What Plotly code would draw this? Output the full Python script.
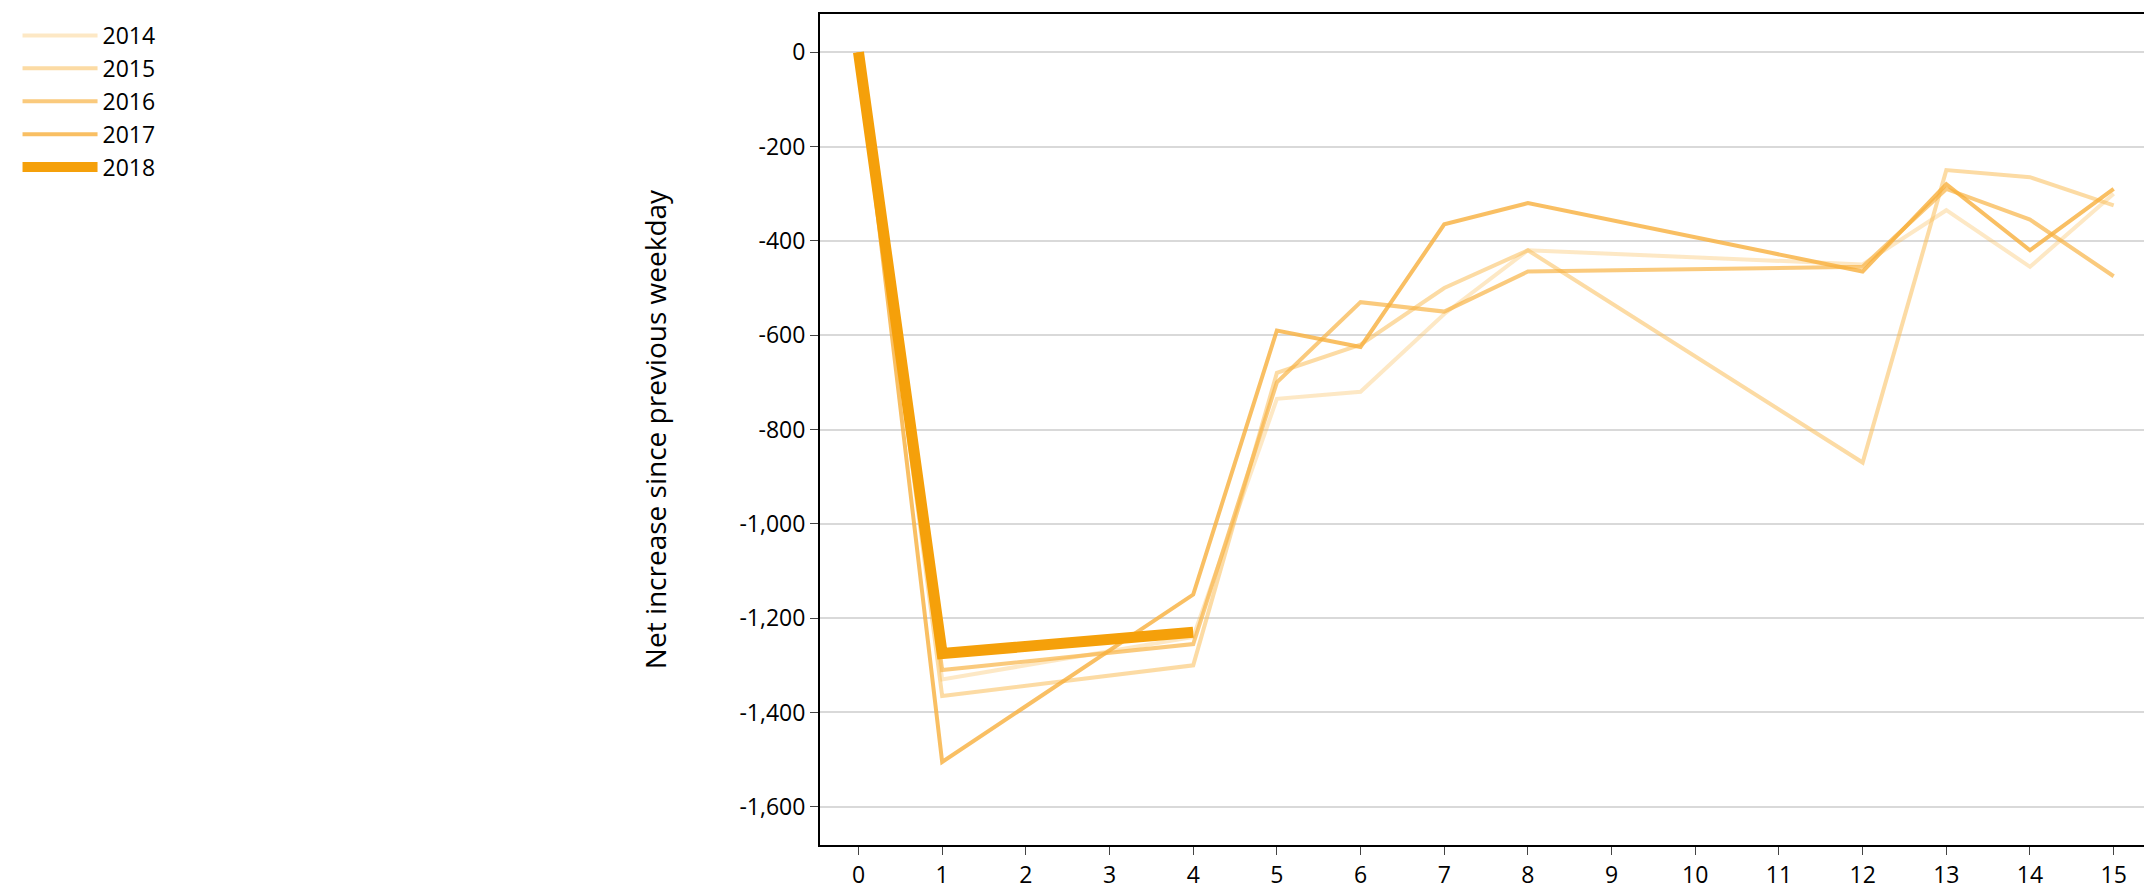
import plotly.graph_objects as go

days = [0, 1, 4, 5, 6, 7, 8, 12, 13, 14, 15]
y2014 = [0, -1330, -1240, -735, -720, -555, -420, -450, -335, -455, -300]
y2015 = [0, -1365, -1300, -680, -620, -500, -420, -870, -250, -265, -325]
y2016 = [0, -1310, -1255, -700, -530, -550, -465, -455, -290, -355, -475]
y2017 = [0, -1505, -1150, -590, -625, -365, -320, -465, -280, -420, -290]
days2018 = [0, 1, 4]
y2018 = [0, -1275, -1230]
yticks = list(range(-1600, 1, 200))

fig = go.Figure()
for name, x, y, col, w in [
    ("2014", days, y2014, "rgba(250,190,90,0.35)", 4),
    ("2015", days, y2015, "rgba(250,190,90,0.55)", 4),
    ("2016", days, y2016, "rgba(248,180,70,0.7)", 4),
    ("2017", days, y2017, "rgba(248,175,60,0.8)", 4),
    ("2018", days2018, y2018, "#f5a00a", 11),
]:
    fig.add_trace(go.Scatter(x=x, y=y, name=name, mode="lines",
                             line=dict(color=col, width=w)))

fig.update_layout(
    width=2152, height=893, plot_bgcolor="white", paper_bgcolor="white",
    font=dict(family="Open Sans", size=23, color="black"),
    margin=dict(l=812, r=7, t=4, b=56),
    legend=dict(x=-0.602, y=1.0, xanchor="left", yanchor="top",
                font=dict(size=23), tracegroupgap=0, itemwidth=75),
)
fig.update_xaxes(range=[-0.46, 15.47], tickvals=list(range(16)), showgrid=False,
                 showline=True, linecolor="black", linewidth=2, mirror=True,
                 ticks="outside", ticklen=8, zeroline=False)
fig.update_yaxes(range=[-1681, 81], tickvals=yticks,
                 ticktext=[f"{v:,}" for v in yticks], gridcolor="#d9d9d9", gridwidth=2,
                 showline=True, linecolor="black", linewidth=2, mirror=True,
                 ticks="outside", ticklen=8, zeroline=False,
                 title=dict(text="Net increase since previous weekday", standoff=65))
fig.write_html("out.html")
